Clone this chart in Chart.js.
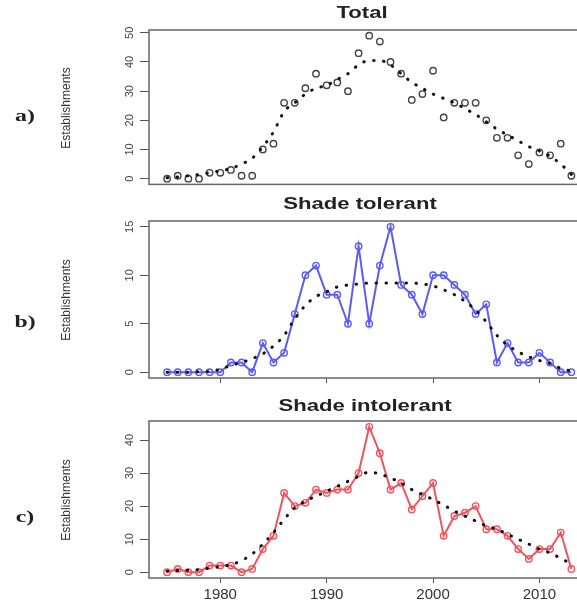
<!DOCTYPE html>
<html>
<head>
<meta charset="utf-8">
<script src="https://cdn.jsdelivr.net/npm/chart.js@4.4.1/dist/chart.umd.min.js"></script>
<style>
  html, body { margin: 0; padding: 0; background: #fff; overflow: hidden; }
  #page { position: relative; width: 577px; height: 606px; overflow: hidden; }
  .panel { position: absolute; left: 0; }
  .txt { position: absolute; white-space: nowrap; line-height: 1; }
  .titre { font: bold 17px "Liberation Sans", Arial, sans-serif; color: #222; }
  .ylab { font: 12px "Liberation Sans", Arial, sans-serif; color: #333; }
  .lettre { font: bold 17px "Liberation Serif", "Times New Roman", serif; color: #222; }
</style>
</head>
<body>
<div id="page">
  <canvas id="chart-total" class="panel" width="590" height="195" style="top:0px;width:590px;height:195px"></canvas>
  <canvas id="chart-tolerant" class="panel" width="590" height="195" style="top:195px;width:590px;height:195px"></canvas>
  <canvas id="chart-intolerant" class="panel" width="590" height="216" style="top:390px;width:590px;height:216px"></canvas>
</div>
<script>
// Years of establishment
const annees = [1975, 1976, 1977, 1978, 1979, 1980, 1981, 1982, 1983, 1984,
    1985, 1986, 1987, 1988, 1989, 1990, 1991, 1992, 1993, 1994,
    1995, 1996, 1997, 1998, 1999, 2000, 2001, 2002, 2003, 2004,
    2005, 2006, 2007, 2008, 2009, 2010, 2011, 2012, 2013];

// a) Total
const total = [0, 1, 0, 0, 2, 2, 3, 1, 1, 10, 12, 26, 26, 31, 36, 32, 33, 30, 43, 49,
    47, 40, 36, 27, 29, 37, 21, 26, 26, 26, 20, 14, 14, 8, 5, 9, 8, 12, 1];
const totalTendance = [0.3, 0.6, 1.0, 1.4, 2.0, 2.7, 3.5, 5, 7, 11, 16, 23, 26, 29, 31, 32, 34, 36, 39, 40.5,
    40.5, 39, 36, 33, 31, 29, 27.5, 26, 24, 22, 19.5, 17, 15, 13, 11, 9.5, 7.7, 5, 1.5];

// b) Shade tolerant
const tolerant = [0, 0, 0, 0, 0, 0, 1, 1, 0, 3, 1, 2, 6, 10, 11, 8, 8, 5, 13, 5,
    11, 15, 9, 8, 6, 10, 10, 9, 8, 6, 7, 1, 3, 1, 1, 2, 1, 0, 0];
const tolerantTendance = [0, 0, 0, 0.05, 0.1, 0.3, 0.7, 1.0, 1.4, 1.9, 2.7, 3.8, 5.5, 6.9, 7.8, 8.3, 8.8, 9.0, 9.1, 9.2,
    9.2, 9.2, 9.2, 9.2, 9.1, 8.9, 8.5, 8.0, 7.3, 6.4, 5.2, 3.8, 2.8, 2.1, 1.6, 1.2, 0.9, 0.4, 0.1];

// c) Shade intolerant
const intolerant = [0, 1, 0, 0, 2, 2, 2, 0, 1, 7, 11, 24, 20, 21, 25, 24, 25, 25, 30, 44,
    36, 25, 27, 19, 23, 27, 11, 17, 18, 20, 13, 13, 11, 7, 4, 7, 7, 12, 1];
const intolerantTendance = [0.3, 0.5, 0.6, 0.8, 1.2, 1.7, 2.3, 3.5, 5.5, 8.5, 12, 16, 19.5, 21.5, 23, 24.5, 26, 27.5, 29, 30.3,
    29.7, 28.5, 27, 25, 23.5, 22, 20.3, 18.5, 17, 15.5, 14, 13, 11.5, 10, 8.5, 7, 5.8, 4.2, 2.5];

// Tick labels
const ticksTotal = [0, 10, 20, 30, 40, 50];
const ticksTolerant = [0, 5, 10, 15];
const ticksIntolerant = [0, 10, 20, 30, 40];
const ticksAnnees = [1980, 1990, 2000, 2010];

const police = '"Liberation Sans", Arial, sans-serif';

function points(valeurs) {
    return annees.map((a, i) => ({ x: a, y: valeurs[i] }));
}

// Box around the plot region (R style)
const cadre = {
    id: 'cadre',
    afterDraw(chart) {
        const a = chart.chartArea;
        const ctx = chart.ctx;
        ctx.save();
        ctx.strokeStyle = '#666';
        ctx.lineWidth = 1.5;
        ctx.strokeRect(a.left, a.top, a.right - a.left, a.bottom - a.top);
        ctx.restore();
    }
};

function creerPanneau(canvasId, o) {
    const ctx = document.getElementById(canvasId).getContext('2d');
    return new Chart(ctx, {
        type: 'line',
        data: {
            datasets: [{
                data: points(o.tendance),
                borderColor: '#111',
                borderWidth: 3,
                borderDash: [0.5, 9.5],
                borderCapStyle: 'round',
                pointRadius: 0,
                cubicInterpolationMode: 'monotone',
                fill: false
            }, {
                data: points(o.serie),
                showLine: o.ligne,
                borderColor: o.couleur,
                borderWidth: 2,
                pointRadius: 3.2,
                pointBorderWidth: 1.4,
                pointBorderColor: o.couleur,
                pointBackgroundColor: 'rgba(255,255,255,0)',
                tension: 0
            }]
        },
        options: {
            responsive: false,
            animation: false,
            events: [],
            layout: { padding: { top: o.padHaut, right: 8, left: 0, bottom: 0 } },
            plugins: { legend: { display: false }, tooltip: { enabled: false } },
            scales: {
                x: {
                    type: 'linear',
                    min: 1973.3,
                    max: 2014,
                    afterBuildTicks: ax => { ax.ticks = ticksAnnees.map(v => ({ value: v })); },
                    afterFit: ax => { ax.height = o.hautAxeX; },
                    border: { display: false },
                    grid: {
                        display: o.tickX > 0,
                        drawOnChartArea: false,
                        tickLength: o.tickX,
                        color: '#555'
                    },
                    ticks: {
                        display: o.labelsX,
                        autoSkip: false,
                        maxRotation: 0,
                        padding: 3,
                        color: '#333',
                        font: { family: police, size: 15 },
                        callback: v => String(v)
                    }
                },
                y: {
                    min: o.yMin,
                    max: o.yMax,
                    afterBuildTicks: ax => { ax.ticks = o.yTicks.map(v => ({ value: v })); },
                    afterFit: ax => { ax.width = 149; },
                    border: { display: false },
                    grid: {
                        drawOnChartArea: false,
                        tickLength: 9,
                        color: '#555'
                    },
                    ticks: {
                        autoSkip: false,
                        minRotation: 90,
                        maxRotation: 90,
                        crossAlign: 'center',
                        padding: 4,
                        color: '#444',
                        font: { family: police, size: 11 },
                        callback: v => String(v)
                    }
                }
            }
        },
        plugins: [cadre]
    });
}

function placerTexte(texte, classe, cx, cy, transform) {
    const el = document.createElement('div');
    el.className = 'txt ' + classe;
    el.textContent = texte;
    el.style.left = cx + 'px';
    el.style.top = cy + 'px';
    el.style.transform = 'translate(-50%, -50%) ' + (transform || '');
    document.getElementById('page').appendChild(el);
}

creerPanneau('chart-total', {
    serie: total, tendance: totalTendance, couleur: '#444', ligne: false,
    yMin: -1.96, yMax: 50.96, yTicks: ticksTotal,
    padHaut: 30, hautAxeX: 8, tickX: 0, labelsX: false
});

creerPanneau('chart-tolerant', {
    serie: tolerant, tendance: tolerantTendance, couleur: 'rgb(92, 92, 240)', ligne: true,
    yMin: -0.6, yMax: 15.6, yTicks: ticksTolerant,
    padHaut: 26, hautAxeX: 12, tickX: 5, labelsX: false
});

creerPanneau('chart-intolerant', {
    serie: intolerant, tendance: intolerantTendance, couleur: 'rgb(240, 84, 92)', ligne: true,
    yMin: -1.76, yMax: 45.76, yTicks: ticksIntolerant,
    padHaut: 31, hautAxeX: 28, tickX: 5, labelsX: true
});

// Titles, axis titles and panel letters
placerTexte('Total', 'titre', 362, 13, 'scaleX(1.3)');
placerTexte('Shade tolerant', 'titre', 360, 204, 'scaleX(1.3)');
placerTexte('Shade intolerant', 'titre', 365, 406, 'scaleX(1.3)');

placerTexte('Establishments', 'ylab', 66, 108, 'rotate(-90deg)');
placerTexte('Establishments', 'ylab', 66, 300, 'rotate(-90deg)');
placerTexte('Establishments', 'ylab', 66, 500, 'rotate(-90deg)');

placerTexte('a)', 'lettre', 25, 116, 'scaleX(1.4)');
placerTexte('b)', 'lettre', 25, 322, 'scaleX(1.4)');
placerTexte('c)', 'lettre', 25, 517, 'scaleX(1.4)');
</script>
</body>
</html>
